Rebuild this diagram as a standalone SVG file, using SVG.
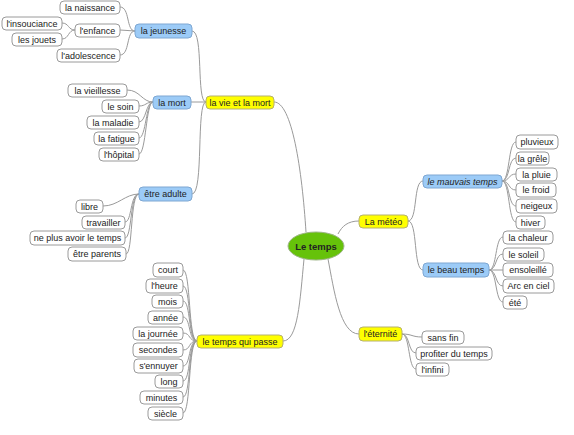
<svg xmlns="http://www.w3.org/2000/svg" width="574" height="435" viewBox="0 0 574 435">
<style>
.n rect{fill:#fff;stroke:#9a9a9a;stroke-width:1}
.b rect{fill:#9ccbf7;stroke:#7ea7d2}
.y rect{fill:#ffff00;stroke:#b5b070}
text{font-family:"Liberation Sans",Arial,sans-serif;font-size:9px;fill:#222;text-anchor:middle}
.c path{fill:none;stroke:#9a9a9a;stroke-width:1}
</style>
<rect width="574" height="435" fill="#fff"/>
<g class="c">
<path d="M274,102 C292,102 302,170 306,232"/>
<path d="M283,341 C298,341 300,300 304,259"/>
<path d="M359,221 C348,221 342,226 338,234"/>
<path d="M359,334 C340,334 334,290 328,259"/>
<path d="M206,102 C196,102 204,31 192,31"/>
<path d="M206,102 L191,102"/>
<path d="M206,102 C196,102 204,194 192,194"/>
<path d="M135,31 C126,31 130,7 120,7"/>
<path d="M135,31 L120,30"/>
<path d="M135,31 C126,31 130,55 120,55"/>
<path d="M75,30 C68,30 69,23 62,23"/>
<path d="M75,30 C68,30 69,39 62,39"/>
<path d="M153,102 C142,102 140,90 127,90"/>
<path d="M153,102 C146,102 146,106 139,106"/>
<path d="M153,102 C146,102 146,122 139,122"/>
<path d="M153,102 C146,102 146,138 139,138"/>
<path d="M153,102 C146,102 146,154 139,154"/>
<path d="M139,194 C125,194 118,206 103,206"/>
<path d="M139,194 C130,194 132,222 125,222"/>
<path d="M139,194 C130,194 132,238 125,238"/>
<path d="M139,194 C130,194 133,254 126,254"/>
<path d="M197,341 C188,341 191,270 183,270"/>
<path d="M197,341 C188,341 191,286 183,286"/>
<path d="M197,341 C188,341 191,301 183,301"/>
<path d="M197,341 C188,341 191,317 183,317"/>
<path d="M197,341 C188,341 191,333 183,333"/>
<path d="M197,341 C188,341 191,350 183,350"/>
<path d="M197,341 C188,341 191,366 183,366"/>
<path d="M197,341 C188,341 191,381 183,381"/>
<path d="M197,341 C188,341 191,397 183,397"/>
<path d="M197,341 C188,341 191,413 183,413"/>
<path d="M408,221 C418,221 413,181 423,181"/>
<path d="M408,221 C418,221 413,270 423,270"/>
<path d="M502,181 C510,181 508,142 516,142"/>
<path d="M502,181 C510,181 508,158 516,158"/>
<path d="M502,181 C510,181 508,174 516,174"/>
<path d="M502,181 C510,181 508,190 516,190"/>
<path d="M502,181 C510,181 508,206 516,206"/>
<path d="M502,181 C510,181 508,222 516,222"/>
<path d="M489,270 C497,270 495,237 503,237"/>
<path d="M489,270 C497,270 495,254 503,254"/>
<path d="M489,270 L503,270"/>
<path d="M489,270 C497,270 495,286 503,286"/>
<path d="M489,270 C497,270 495,302 503,302"/>
<path d="M402,334 C412,334 412,337 422,337"/>
<path d="M402,334 C410,334 408,353 416,353"/>
<path d="M402,334 C410,334 408,369 416,369"/>
</g>
<g id="center"><ellipse cx="316" cy="246" rx="28" ry="14" fill="#66c20a" stroke="#9fb58a"/><text x="316" y="249.5" style="font-weight:bold;font-size:9.5px">Le temps</text></g>
<g id="vie" class="y"><rect x="206" y="96" width="68" height="13" rx="4"/><text x="240" y="105.5">la vie et la mort</text></g>
<g id="jeunesse" class="b"><rect x="135" y="24" width="57" height="14" rx="4"/><text x="163.5" y="34">la jeunesse</text></g>
<g id="naissance" class="n"><rect x="60" y="1" width="60" height="13" rx="4"/><text x="90" y="10.5">la naissance</text></g>
<g id="enfance" class="n"><rect x="75" y="24" width="45" height="13" rx="4"/><text x="97.5" y="33.5">l'enfance</text></g>
<g id="insouciance" class="n"><rect x="2" y="17" width="60" height="13" rx="4"/><text x="32" y="26.5">l'insouciance</text></g>
<g id="jouets" class="n"><rect x="12" y="33" width="50" height="13" rx="4"/><text x="37" y="42.5">les jouets</text></g>
<g id="adolescence" class="n"><rect x="57" y="49" width="63" height="13" rx="4"/><text x="88.5" y="58.5">l'adolescence</text></g>
<g id="mort" class="b"><rect x="153" y="96" width="38" height="13" rx="4"/><text x="172" y="105.5">la mort</text></g>
<g id="vieillesse" class="n"><rect x="68" y="84" width="59" height="13" rx="4"/><text x="97.5" y="93.5">la vieillesse</text></g>
<g id="soin" class="n"><rect x="102" y="100" width="37" height="13" rx="4"/><text x="120.5" y="109.5">le soin</text></g>
<g id="maladie" class="n"><rect x="87" y="116" width="52" height="13" rx="4"/><text x="113" y="125.5">la maladie</text></g>
<g id="fatigue" class="n"><rect x="94" y="132" width="45" height="13" rx="4"/><text x="116.5" y="141.5">la fatigue</text></g>
<g id="hopital" class="n"><rect x="99" y="148" width="40" height="13" rx="4"/><text x="119" y="157.5">l'hôpital</text></g>
<g id="adulte" class="b"><rect x="139" y="187" width="53" height="14" rx="4"/><text x="165.5" y="197">être adulte</text></g>
<g id="libre" class="n"><rect x="76" y="200" width="27" height="13" rx="4"/><text x="89.5" y="209.5">libre</text></g>
<g id="travailler" class="n"><rect x="82" y="216" width="43" height="13" rx="4"/><text x="103.5" y="225.5">travailler</text></g>
<g id="neplus" class="n"><rect x="30" y="231" width="95" height="14" rx="4"/><text x="77.5" y="241">ne plus avoir le temps</text></g>
<g id="parents" class="n"><rect x="68" y="247" width="58" height="14" rx="4"/><text x="97" y="257">être parents</text></g>
<g id="passe" class="y"><rect x="197" y="335" width="86" height="13" rx="4"/><text x="240" y="344.5">le temps qui passe</text></g>
<g id="court" class="n"><rect x="153" y="263" width="30" height="14" rx="4"/><text x="168" y="273">court</text></g>
<g id="heure" class="n"><rect x="146" y="279" width="37" height="14" rx="4"/><text x="164.5" y="289">l'heure</text></g>
<g id="mois" class="n"><rect x="152" y="295" width="31" height="13" rx="4"/><text x="167.5" y="304.5">mois</text></g>
<g id="annee" class="n"><rect x="148" y="311" width="35" height="13" rx="4"/><text x="165.5" y="320.5">année</text></g>
<g id="journee" class="n"><rect x="133" y="327" width="50" height="13" rx="4"/><text x="158" y="336.5">la journée</text></g>
<g id="secondes" class="n"><rect x="133" y="343" width="50" height="14" rx="4"/><text x="158" y="353">secondes</text></g>
<g id="ennuyer" class="n"><rect x="134" y="359" width="49" height="14" rx="4"/><text x="158.5" y="369">s'ennuyer</text></g>
<g id="long" class="n"><rect x="155" y="375" width="28" height="13" rx="4"/><text x="169" y="384.5">long</text></g>
<g id="minutes" class="n"><rect x="140" y="391" width="43" height="13" rx="4"/><text x="161.5" y="400.5">minutes</text></g>
<g id="siecle" class="n"><rect x="148" y="407" width="35" height="13" rx="4"/><text x="165.5" y="416.5">siècle</text></g>
<g id="meteo" class="y"><rect x="359" y="215" width="49" height="13" rx="4"/><text x="383.5" y="224.5">La météo</text></g>
<g id="mauvais" class="b"><rect x="423" y="175" width="79" height="13" rx="4"/><text x="462.5" y="184.5" font-style="italic">le mauvais temps</text></g>
<g id="pluvieux" class="n"><rect x="516" y="135" width="42" height="14" rx="4"/><text x="537" y="145">pluvieux</text></g>
<g id="grele" class="n"><rect x="516" y="152" width="33" height="13" rx="4"/><text x="532.5" y="161.5">la grêle</text></g>
<g id="pluie" class="n"><rect x="516" y="168" width="41" height="13" rx="4"/><text x="536.5" y="177.5">la pluie</text></g>
<g id="froid" class="n"><rect x="516" y="183" width="40" height="14" rx="4"/><text x="536" y="193">le froid</text></g>
<g id="neigeux" class="n"><rect x="516" y="199" width="41" height="14" rx="4"/><text x="536.5" y="209">neigeux</text></g>
<g id="hiver" class="n"><rect x="516" y="216" width="29" height="13" rx="4"/><text x="530.5" y="225.5">hiver</text></g>
<g id="beau" class="b"><rect x="423" y="263" width="66" height="14" rx="4"/><text x="456" y="273">le beau temps</text></g>
<g id="chaleur" class="n"><rect x="503" y="231" width="50" height="13" rx="4"/><text x="528" y="240.5">la chaleur</text></g>
<g id="soleil" class="n"><rect x="503" y="248" width="41" height="13" rx="4"/><text x="523.5" y="257.5">le soleil</text></g>
<g id="ensoleille" class="n"><rect x="503" y="263" width="50" height="14" rx="4"/><text x="528" y="273">ensoleillé</text></g>
<g id="arc" class="n"><rect x="503" y="279" width="51" height="14" rx="4"/><text x="528.5" y="289">Arc en ciel</text></g>
<g id="ete" class="n"><rect x="503" y="296" width="24" height="13" rx="4"/><text x="515" y="305.5">été</text></g>
<g id="eternite" class="y"><rect x="359" y="327" width="43" height="14" rx="4"/><text x="380.5" y="337">l'éternité</text></g>
<g id="sansfin" class="n"><rect x="422" y="331" width="42" height="13" rx="4"/><text x="443" y="340.5">sans fin</text></g>
<g id="profiter" class="n"><rect x="416" y="347" width="76" height="13" rx="4"/><text x="454" y="356.5">profiter du temps</text></g>
<g id="infini" class="n"><rect x="416" y="363" width="33" height="13" rx="4"/><text x="432.5" y="372.5">l'infini</text></g>
</svg>
